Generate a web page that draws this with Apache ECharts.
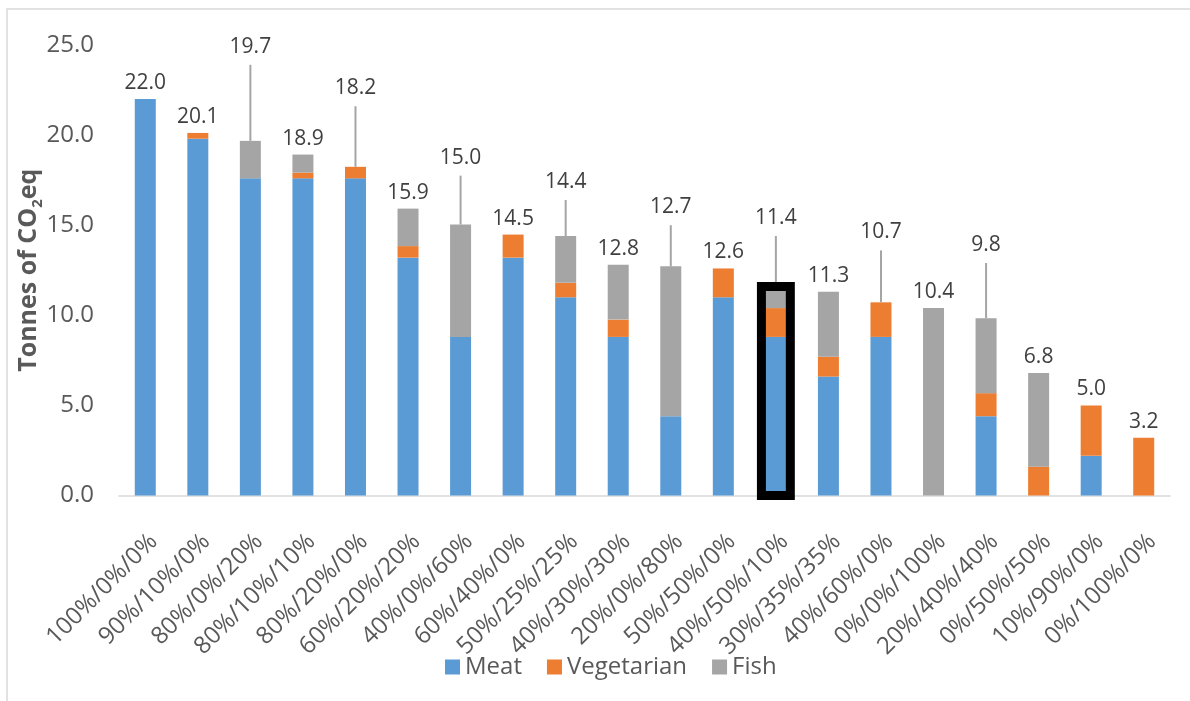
<!DOCTYPE html>
<html>
<head>
<meta charset="utf-8">
<script src="https://cdn.jsdelivr.net/npm/echarts@6/dist/echarts.min.js"></script>
<style>
  html, body { margin: 0; padding: 0; background: #ffffff; }
  #chart { width: 1190px; height: 701px; }
</style>
</head>
<body>
<div id="chart"></div>
<script>
// Diet mix (meat / vegetarian / fish share) for each scenario
const categories = [
  '100%/0%/0%', '90%/10%/0%', '80%/0%/20%', '80%/10%/10%', '80%/20%/0%',
  '60%/20%/20%', '40%/0%/60%', '60%/40%/0%', '50%/25%/25%', '40%/30%/30%',
  '20%/0%/80%', '50%/50%/0%', '40%/50%/10%', '30%/35%/35%', '40%/60%/0%',
  '0%/0%/100%', '20%/40%/40%', '0%/50%/50%', '10%/90%/0%', '0%/100%/0%'
];

// Tonnes of CO2eq contributed by each food group
const meat       = [22.0, 19.8, 17.6, 17.6, 17.6, 13.2, 8.8, 13.2, 11.0, 8.8, 4.4, 11.0, 8.8, 6.6, 8.8, 0, 4.4, 0, 2.2, 0];
const vegetarian = [0, 0.32, 0, 0.32, 0.64, 0.64, 0, 1.28, 0.8, 0.96, 0, 1.6, 1.6, 1.1, 1.92, 0, 1.28, 1.6, 2.8, 3.2];
const fish       = [0, 0, 2.08, 1.0, 0, 2.08, 6.24, 0, 2.6, 3.04, 8.32, 0, 1.04, 3.6, 0, 10.4, 4.16, 5.2, 0, 0];

const yTicks = { min: 0, max: 25, interval: 5 };

// Total labels that sit higher up on a leader line (axis units), null = just above the bar
const calloutAt = [null, null, 24.9, null, 22.6, null, 18.75, null, 17.4, null,
                   16.0, null, 15.4, null, 14.6, null, 13.9, null, null, null];

// Scenario outlined with a heavy frame
const highlightIndex = 12;
const highlightTop = 11.6;

const totals = categories.map((_, i) => meat[i] + vegetarian[i] + fish[i]);

const FONT = '"Open Sans", "Noto Sans", sans-serif';
const GREY_TEXT = '#595959';

const chart = echarts.init(document.getElementById('chart'), null, { renderer: 'canvas' });

function barSeries(name, values, color) {
  return {
    name: name,
    type: 'bar',
    stack: 'total',
    barWidth: 21,
    itemStyle: { color: color },
    emphasis: { disabled: true },
    data: values
  };
}

const option = {
  animation: false,
  backgroundColor: '#ffffff',
  textStyle: { fontFamily: FONT },
  graphic: [{
    type: 'rect',
    silent: true,
    shape: { x: 7, y: 9, width: 1200, height: 720 },
    style: { fill: 'none', stroke: '#d9d9d9', lineWidth: 1.5 }
  }],
  grid: { left: 119, right: 20, top: 45, bottom: 205.5, containLabel: false },
  legend: {
    data: ['Meat', 'Vegetarian', 'Fish'],
    left: 440,
    top: 650,
    icon: 'rect',
    itemWidth: 15,
    itemHeight: 15,
    itemGap: 25,
    textStyle: { fontFamily: FONT, fontSize: 24, color: GREY_TEXT }
  },
  xAxis: {
    type: 'category',
    data: categories,
    axisLine: { lineStyle: { color: '#d9d9d9', width: 1.5 } },
    axisTick: { show: false },
    axisLabel: {
      interval: 0,
      rotate: 45,
      margin: 34,
      verticalAlign: 'top',
      fontFamily: FONT,
      fontSize: 24,
      color: GREY_TEXT
    }
  },
  yAxis: {
    type: 'value',
    min: yTicks.min,
    max: yTicks.max,
    interval: yTicks.interval,
    splitLine: { show: false },
    axisLine: { show: false },
    axisTick: { show: false },
    axisLabel: {
      margin: 25,
      fontFamily: FONT,
      fontSize: 24,
      color: GREY_TEXT,
      formatter: v => v.toFixed(1)
    },
    name: '{a|Tonnes of CO}{b|2}{a|eq}',
    nameLocation: 'middle',
    nameRotate: 90,
    nameGap: 74,
    nameMoveOverlap: false,
    nameTextStyle: {
      rich: {
        a: { fontFamily: FONT, fontSize: 25, fontWeight: 'bold', color: GREY_TEXT, lineHeight: 32 },
        b: { fontFamily: FONT, fontSize: 15, fontWeight: 'bold', color: GREY_TEXT, lineHeight: 32, verticalAlign: 'bottom' }
      }
    }
  },
  series: [
    barSeries('Meat', meat, '#5b9bd5'),
    barSeries('Vegetarian', vegetarian, '#ed7d31'),
    barSeries('Fish', fish, '#a5a5a5'),
    {
      // stack totals, optionally lifted onto a leader line
      name: 'totals',
      type: 'custom',
      z: 5,
      silent: true,
      encode: { x: 0, y: 1 },
      data: totals.map((t, i) => [i, t, calloutAt[i] == null ? -1 : calloutAt[i]]),
      renderItem: function (params, api) {
        const i = api.value(0);
        const total = api.value(1);
        const callout = api.value(2);
        const top = api.coord([i, total]);
        const children = [];
        let labelY;
        if (callout >= 0) {
          labelY = api.coord([i, callout])[1];
          children.push({
            type: 'line',
            shape: { x1: top[0], y1: top[1], x2: top[0], y2: labelY + 18 },
            style: { stroke: '#a5a5a5', lineWidth: 2 }
          });
        } else {
          labelY = top[1] - 16;
        }
        children.push({
          type: 'text',
          style: {
            text: total.toFixed(1),
            x: top[0],
            y: labelY,
            align: 'center',
            verticalAlign: 'middle',
            fontFamily: FONT,
            fontSize: 21,
            fill: '#404040'
          }
        });
        return { type: 'group', children: children };
      }
    },
    {
      // heavy outline around the highlighted scenario
      name: 'highlight',
      type: 'custom',
      z: 10,
      silent: true,
      encode: { x: 0, y: 1 },
      data: [[highlightIndex, highlightTop]],
      renderItem: function (params, api) {
        const i = api.value(0);
        const topPt = api.coord([i, api.value(1)]);
        const basePt = api.coord([i, 0]);
        const w = api.size([1, 0])[0] * 0.55;
        return {
          type: 'rect',
          shape: { x: topPt[0] - w / 2, y: topPt[1], width: w, height: basePt[1] - topPt[1] },
          style: { fill: 'none', stroke: '#000000', lineWidth: 9 }
        };
      }
    }
  ]
};

chart.setOption(option);
</script>
</body>
</html>
